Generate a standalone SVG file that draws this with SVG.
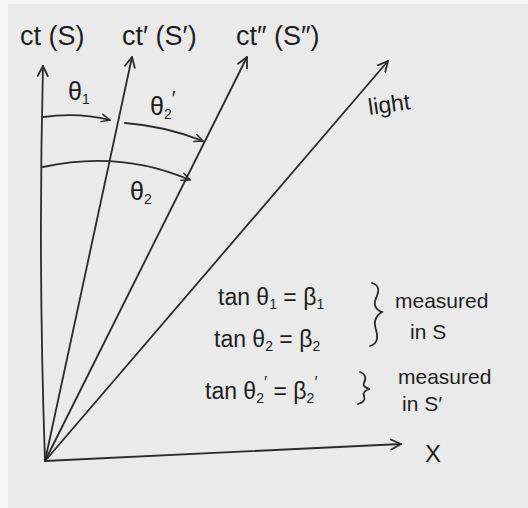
<svg xmlns="http://www.w3.org/2000/svg" width="528" height="508" viewBox="0 0 528 508">
<defs>
<marker id="ah" viewBox="0 0 12 12" refX="11" refY="6" markerWidth="12" markerHeight="12" markerUnits="userSpaceOnUse" orient="auto">
<path d="M1,1 L11,6 L1,11" fill="none" stroke="#2b2b2b" stroke-width="1.8" stroke-linecap="round" stroke-linejoin="round"/>
</marker>
<marker id="ahs" viewBox="0 0 12 12" refX="11" refY="6" markerWidth="10" markerHeight="10" markerUnits="userSpaceOnUse" orient="auto">
<path d="M1,1.5 L11,6 L1,10.5" fill="none" stroke="#2b2b2b" stroke-width="1.8" stroke-linecap="round" stroke-linejoin="round"/>
</marker>
</defs>
<style>
.ln{fill:none;stroke:#2b2b2b;stroke-width:1.8;stroke-linecap:round}
.t{font-family:"Liberation Sans","DejaVu Sans",sans-serif;fill:#1e1e1e}
.ax{font-size:27px}
.eq{font-size:23px}
.th{font-size:25px}
.m{font-size:21px}
.sub{font-size:14px}
</style>
<rect x="0" y="0" width="528" height="508" fill="#f6f6f6"/>
<rect x="8" y="4" width="520" height="504" fill="#eaeaea"/>

<g id="connectors">
<path id="axis-ct" class="ln" d="M45,461 Q38,260 43,66" marker-end="url(#ah)"/>
<path id="axis-ct1" class="ln" d="M45,461 L132,57" marker-end="url(#ah)"/>
<path id="axis-ct2" class="ln" d="M45,461 L247,57" marker-end="url(#ah)"/>
<path id="axis-light" class="ln" d="M45,461 L388,61" marker-end="url(#ah)"/>
<path id="axis-x" class="ln" d="M45,461 L401,444" marker-end="url(#ah)"/>
<path id="arc-theta1" class="ln" d="M43,117 Q78,112 110,120" marker-end="url(#ahs)"/>
<path id="arc-theta2p" class="ln" d="M125,123 Q165,126 203,141" marker-end="url(#ahs)"/>
<path id="arc-theta2" class="ln" d="M43,167 Q120,150 190,180" marker-end="url(#ahs)"/>
</g>

<g id="label-ct"><text class="t ax" x="20" y="45">ct (S)</text></g>
<g id="label-ct1"><text class="t ax" x="122" y="45">ct′ (S′)</text></g>
<g id="label-ct2"><text class="t ax" x="236" y="45">ct″ (S″)</text></g>
<g id="label-light"><text class="t" font-size="23" x="368" y="112" transform="rotate(-8 390 104)">light</text></g>
<g id="label-x"><text class="t" font-size="24" x="425" y="462">X</text></g>

<g id="label-theta1"><text class="t th" x="68" y="100">θ<tspan class="sub" dy="4">1</tspan></text></g>
<g id="label-theta2p"><text class="t th" x="150" y="115">θ<tspan class="sub" dy="4">2</tspan><tspan dy="-14" font-size="20">′</tspan></text></g>
<g id="label-theta2"><text class="t th" x="130" y="200">θ<tspan class="sub" dy="4">2</tspan></text></g>

<g id="eq1"><text class="t eq" x="218" y="305">tan θ<tspan class="sub" dy="4">1</tspan><tspan dy="-4"> = β</tspan><tspan class="sub" dy="4">1</tspan></text></g>
<g id="eq2"><text class="t eq" x="214" y="347">tan θ<tspan class="sub" dy="4">2</tspan><tspan dy="-4"> =  β</tspan><tspan class="sub" dy="4">2</tspan></text></g>
<g id="brace1"><path class="ln" d="M372,283 Q382,286 376,298 Q372,308 382,312 Q372,318 376,330 Q380,343 370,346"/></g>
<g id="note1"><text class="t m" x="395" y="308">measured</text><text class="t m" x="410" y="339">in S</text></g>

<g id="eq3"><text class="t eq" x="205" y="399">tan θ<tspan class="sub" dy="4">2</tspan><tspan dy="-15" font-size="17">′</tspan><tspan dy="11"> = β</tspan><tspan class="sub" dy="4">2</tspan><tspan dy="-15" font-size="17">′</tspan></text></g>
<g id="brace2"><path class="ln" d="M360,372 Q368,375 364,383 Q362,387 370,389 Q362,391 364,396 Q366,402 358,404"/></g>
<g id="note2"><text class="t m" x="398" y="384">measured</text><text class="t m" x="402" y="411">in S′</text></g>
</svg>
